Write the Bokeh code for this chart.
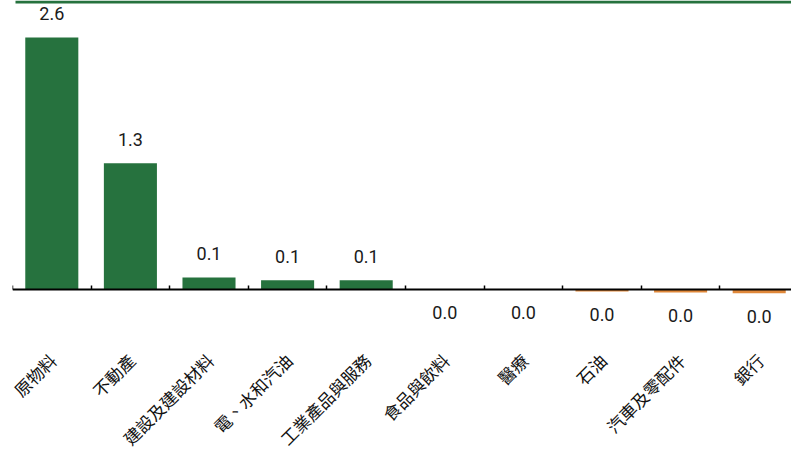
from bokeh.plotting import figure
from bokeh.models import Range1d, LinearAxis, FixedTicker, BoxAnnotation, ColumnDataSource
from bokeh.core.properties import value
from bokeh.embed import file_html
from bokeh.resources import INLINE

categories = ["原物料", "不動產", "建設及建設材料", "電、水和汽油", "工業產品與服務",
              "食品與飲料", "醫療", "石油", "汽車及零配件", "銀行"]
values = [2.6, 1.3, 0.12, 0.09, 0.09, 0.0, 0.0, -0.025, -0.035, -0.045]

GREEN = "#26723e"
ORANGE = "#e0883a"

W, H = 791, 451
scale = 96.7          # px per unit
zero_px = 288.5       # canvas y of zero line
left_px = 12
xmax = (W - left_px) / 78.6

xs = [i + 0.5 for i in range(len(categories))]
colors = [GREEN if v >= 0 else ORANGE for v in values]
labels = [f"{(abs(v) if round(v, 1) == 0 else v):.1f}" for v in values]
pos = [v > 0 for v in values]

p = figure(width=W, height=H, output_backend="svg", toolbar_location=None,
           x_axis_type=None, y_axis_type=None,
           x_range=Range1d(0, xmax),
           y_range=Range1d(-(H - zero_px) / scale, zero_px / scale),
           min_border_left=left_px, min_border_right=0, min_border_top=0, min_border_bottom=0)
p.outline_line_color = None
p.background_fill_color = "white"
p.border_fill_color = "white"

src = ColumnDataSource(dict(x=xs, top=values, color=colors, label=labels, cat=categories))
p.vbar(x="x", top="top", bottom=0, width=0.675, fill_color="color", line_color=None, source=src)

up = ColumnDataSource(dict(x=[x for x, q in zip(xs, pos) if q],
                           y=[v for v, q in zip(values, pos) if q],
                           t=[l for l, q in zip(labels, pos) if q]))
dn = ColumnDataSource(dict(x=[x for x, q in zip(xs, pos) if not q],
                           y=[min(v, 0) for v, q in zip(values, pos) if not q],
                           t=[l for l, q in zip(labels, pos) if not q]))
for s, off in ((up, -24), (dn, 23)):
    p.text(x="x", y="y", text="t", source=s, text_align="center", text_baseline="alphabetic",
           y_offset=off, text_font=value("Roboto"), text_font_size="18px", text_color="#1a1a1a")

p.text(x="x", y=0, text="cat", source=src, angle=0.7853981634, text_align="right",
       text_baseline="middle", x_offset=1, y_offset=68,
       text_font=value("Noto Sans CJK TC"), text_font_size="17px", text_color="#111111")

ax = LinearAxis(fixed_location=0,
                ticker=FixedTicker(ticks=[], minor_ticks=list(range(len(categories)))))
ax.major_tick_in = 0
ax.major_tick_out = 0
ax.minor_tick_in = 4
ax.minor_tick_out = 0
ax.minor_tick_line_width = 1.5
ax.minor_tick_line_color = "black"
ax.axis_line_width = 2
ax.axis_line_color = "black"
ax.major_label_standoff = 0
p.add_layout(ax, "below")

p.add_layout(BoxAnnotation(left=15, right=W, top=0, bottom=3,
                           left_units="canvas", right_units="canvas",
                           top_units="canvas", bottom_units="canvas",
                           fill_color=GREEN, fill_alpha=1, line_color=None))

open("out.html", "w").write(file_html(p, INLINE))
